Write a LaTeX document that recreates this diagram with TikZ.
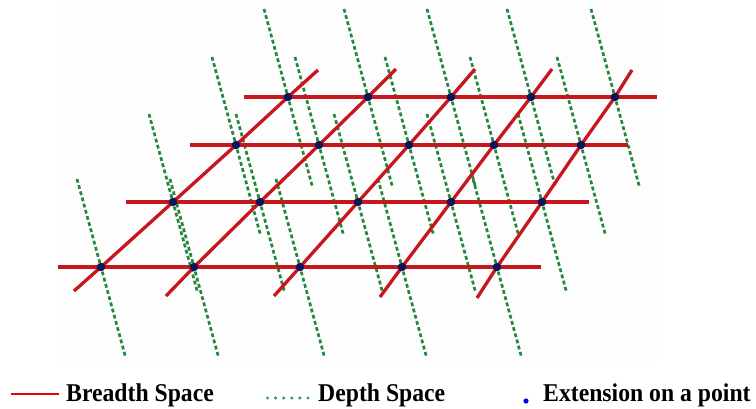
\documentclass[tikz,border=0pt]{standalone}
\usepackage{fontspec}
\setmainfont{Liberation Serif}
\definecolor{bred}{RGB}{200,22,30}
\definecolor{dgreen}{RGB}{36,136,60}
\definecolor{ndot}{RGB}{10,22,92}
\definecolor{lred}{RGB}{240,0,0}
\definecolor{lgreen}{RGB}{46,160,90}
\definecolor{lblue}{RGB}{0,0,240}
\definecolor{bgpanel}{RGB}{253,253,253}
\begin{document}
\begin{tikzpicture}[x=1pt,y=-1pt,
  breadth/.style={draw=bred, line width=3.3pt, line join=round},
  depth/.style={draw=dgreen, line width=2.7pt, dash pattern=on 3.8pt off 2.6pt},
  ptdot/.style={circle, fill=ndot, inner sep=0pt, minimum size=8.5pt},
  legtext/.style={anchor=base west, inner sep=0pt, font=\bfseries\fontsize{23.7}{26}\selectfont}
]
\useasboundingbox (0,0) rectangle (756,408);
\fill[bgpanel] (58,0) rectangle (657,362);

% grid points
\coordinate (p11) at (288,97);  \coordinate (p12) at (368,97);  \coordinate (p13) at (451,97);  \coordinate (p14) at (531,97);  \coordinate (p15) at (615,97);
\coordinate (p21) at (236,145); \coordinate (p22) at (319,145); \coordinate (p23) at (409,145); \coordinate (p24) at (494,145); \coordinate (p25) at (581,145);
\coordinate (p31) at (173,202); \coordinate (p32) at (260,202); \coordinate (p33) at (358,202); \coordinate (p34) at (451,202); \coordinate (p35) at (542,202);
\coordinate (p41) at (101,267); \coordinate (p42) at (194,267); \coordinate (p43) at (300,267); \coordinate (p44) at (402,267); \coordinate (p45) at (497,267);

% depth lines (green dashed)
\foreach \n in {11,12,13,14,15,21,22,23,24,25,31,32,33,34,35,41,42,43,44,45}
  \draw[depth] ([shift={(-24,-88)}]p\n) -- ([shift={(24.5,90)}]p\n);

% breadth lines: horizontal
\coordinate (h1a) at (244,97);  \coordinate (h1b) at (657,97);
\coordinate (h2a) at (190,145); \coordinate (h2b) at (628,145);
\coordinate (h3a) at (126,202); \coordinate (h3b) at (589,202);
\coordinate (h4a) at (58,267);  \coordinate (h4b) at (541,267);
\draw[breadth] (h1a) -- (h1b);
\draw[breadth] (h2a) -- (h2b);
\draw[breadth] (h3a) -- (h3b);
\draw[breadth] (h4a) -- (h4b);

% breadth lines: diagonal
\coordinate (s1) at (74,291);  \coordinate (e1) at (318,70);
\coordinate (s2) at (166,296); \coordinate (e2) at (396,69);
\coordinate (s3) at (274,296); \coordinate (e3) at (475,69);
\coordinate (s4) at (380,297); \coordinate (e4) at (552,69);
\coordinate (s5) at (477,298); \coordinate (e5) at (632,70);
\draw[breadth] (s1) -- (p41) -- (p31) -- (p21) -- (p11) -- (e1);
\draw[breadth] (s2) -- (p42) -- (p32) -- (p22) -- (p12) -- (e2);
\draw[breadth] (s3) -- (p43) -- (p33) -- (p23) -- (p13) -- (e3);
\draw[breadth] (s4) -- (p44) -- (p34) -- (p24) -- (p14) -- (e4);
\draw[breadth] (s5) -- (p45) -- (p35) -- (p25) -- (p15) -- (e5);

% points
\foreach \n in {11,12,13,14,15,21,22,23,24,25,31,32,33,34,35,41,42,43,44,45}
  \node[ptdot] (d\n) at (p\n) {};

% legend
\coordinate (la) at (11,394); \coordinate (lb) at (59,394);
\draw[lred, line width=1.4pt] (la) -- (lb);
\node[legtext] (t1) at (66,401) {\scalebox{1}[1.08]{Breadth Space}};
\foreach \i in {0,...,5}
  \fill[lgreen] (267.5+\i*8.1,398) circle (1.7);
\node[legtext] (t2) at (318,401) {\scalebox{1}[1.08]{Depth Space}};
\fill[lblue] (526,401) circle (2.6);
\node[legtext] (t3) at (543,401) {\scalebox{1}[1.08]{Extension on a point}};
\end{tikzpicture}
\end{document}
